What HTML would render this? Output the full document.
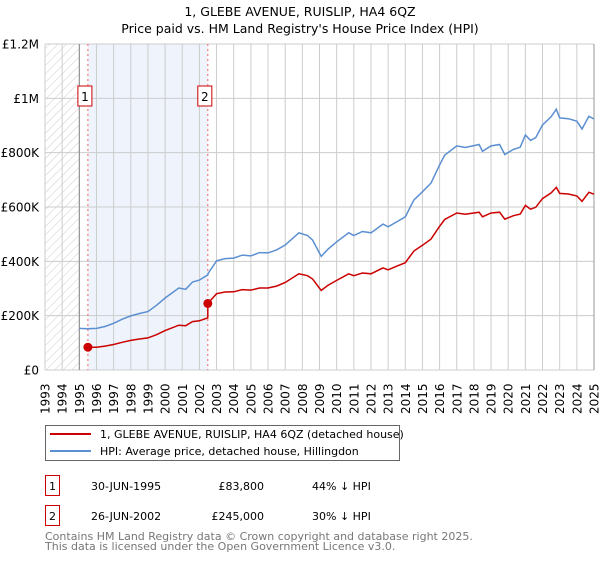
<!DOCTYPE html>
<html><head><meta charset="utf-8"><style>
body{margin:0;background:#fff;font-family:"DejaVu Sans","Liberation Sans",sans-serif;color:#222}
</style></head><body>
<svg width="600" height="560" viewBox="0 0 600 560" xmlns="http://www.w3.org/2000/svg" font-family="DejaVu Sans, Liberation Sans, sans-serif">
<defs><pattern id="hatch" width="6" height="6" patternUnits="userSpaceOnUse" patternTransform="rotate(45)"><line x1="0" y1="0" x2="0" y2="6" stroke="#ccc" stroke-width="1"/></pattern></defs>
<text x="300" y="16" text-anchor="middle" font-size="12.5">1, GLEBE AVENUE, RUISLIP, HA4 6QZ</text>
<text x="300" y="33" text-anchor="middle" font-size="12.5">Price paid vs. HM Land Registry's House Price Index (HPI)</text>
<g id="plot"></g>
<g>
<rect x="45.5" y="425.5" width="354" height="35" fill="#fff" stroke="#666"/>
<line x1="50" y1="434" x2="91" y2="434" stroke="#cc0000" stroke-width="2"/>
<text x="100" y="438" font-size="11">1, GLEBE AVENUE, RUISLIP, HA4 6QZ (detached house)</text>
<line x1="50" y1="451" x2="91" y2="451" stroke="#5b8fd1" stroke-width="2"/>
<text x="100" y="455" font-size="11">HPI: Average price, detached house, Hillingdon</text>
</g>
<g font-size="11">
<rect x="45.5" y="475.5" width="14" height="20" fill="#fff" stroke="#cc0000"/><text x="52.5" y="490" text-anchor="middle">1</text>
<text x="91" y="490">30-JUN-1995</text><text x="264" y="490" text-anchor="end">£83,800</text><text x="312" y="490">44% ↓ HPI</text>
<rect x="45.5" y="505.5" width="14" height="20" fill="#fff" stroke="#cc0000"/><text x="52.5" y="520" text-anchor="middle">2</text>
<text x="91" y="520">26-JUN-2002</text><text x="264" y="520" text-anchor="end">£245,000</text><text x="312" y="520">30% ↓ HPI</text>
</g>
<text x="45" y="540" font-size="11" fill="#777">Contains HM Land Registry data © Crown copyright and database right 2025.</text>
<text x="45" y="550" font-size="11" fill="#777">This data is licensed under the Open Government Licence v3.0.</text>
</svg>
<script>
const hpiYears=[1995,1995.5,1996,1996.5,1997,1997.5,1998,1998.5,1999,1999.5,2000,2000.8,2001.2,2001.6,2002,2002.49,2002.5,2003,2003.5,2004,2004.5,2005,2005.5,2006,2006.5,2007,2007.8,2008.3,2008.6,2009.1,2009.5,2010,2010.7,2011,2011.5,2012,2012.7,2013,2013.5,2014,2014.5,2015,2015.5,2016,2016.3,2017,2017.5,2018.3,2018.5,2019,2019.5,2019.8,2020.3,2020.7,2021,2021.3,2021.6,2022,2022.5,2022.8,2023,2023.5,2024,2024.3,2024.7,2025];
const hpiValues=[153,152,153,160,172,187,199,208,215,238,265,302,297,324,331,350,355,402,410,412,423,420,432,431,442,460,505,495,478,418,445,472,505,495,510,505,537,527,545,564,626,656,688,755,791,825,819,830,805,825,830,793,812,820,865,845,855,902,932,960,928,925,916,887,934,924];
const priceYears=[1995.5,1996,1996.5,1997,1997.5,1998,1998.5,1999,1999.5,2000,2000.8,2001.2,2001.6,2002,2002.49,2002.49,2003,2003.5,2004,2004.5,2005,2005.5,2006,2006.5,2007,2007.8,2008.3,2008.6,2009.1,2009.5,2010,2010.7,2011,2011.5,2012,2012.7,2013,2013.5,2014,2014.5,2015,2015.5,2016,2016.3,2017,2017.5,2018.3,2018.5,2019,2019.5,2019.8,2020.3,2020.7,2021,2021.3,2021.6,2022,2022.5,2022.8,2023,2023.5,2024,2024.3,2024.7,2025];
const priceValues=[83.8,84,88,94,102,109,114,118,130,145,165,163,178,181,192,245,281,287,288,296,294,302,302,309,322,354,347,335,293,312,330,354,347,357,354,376,369,382,395,438,459,482,529,554,578,573,581,564,578,581,555,568,574,606,592,599,631,652,672,650,648,641,621,654,647];
const sales=[{n:"1",t:1995.5,v:83.8},{n:"2",t:2002.49,v:245}];
const yTicks=[0,200,400,600,800,1000,1200];
const yTickLabels=["£0","£200K","£400K","£600K","£800K","£1M","£1.2M"];
const xTicks=[];for(let y=1993;y<=2025;y++)xTicks.push(y);
const L=45,R=594,T=44,B=370;
const X=t=>L+(t-1993)/32*(R-L);
const Y=v=>B-v/1200*(B-T);
const NS="http://www.w3.org/2000/svg";
const g=document.getElementById('plot');
function mk(tag,attrs,name,txt){const e=document.createElementNS(NS,tag);for(const k in attrs)e.setAttribute(k,attrs[k]);


if(txt!==undefined)e.textContent=txt;g.appendChild(e);return e;}
mk('rect',{x:L,y:T,width:R-L,height:B-T,fill:'#fff'},'plot-background');
mk('rect',{x:X(1993),y:T,width:X(1995)-X(1993),height:B-T,fill:'url(#hatch)'},'no-data-region');
mk('rect',{x:X(1995.5),y:T,width:X(2002.49)-X(1995.5),height:B-T,fill:'#eef3fc'},'ownership-period-shade');
xTicks.forEach(t=>{mk('line',{x1:X(t),y1:T,x2:X(t),y2:B,stroke:'#ccc','stroke-width':1},'x-gridline');
mk('text',{x:0,y:0,'font-size':12,'text-anchor':'start',transform:`translate(${X(t)+4.5},${B+44}) rotate(-90)`},'x-tick-label',String(t));});
yTicks.forEach((v,i)=>{mk('line',{x1:L,y1:Y(v),x2:R,y2:Y(v),stroke:'#ccc','stroke-width':1},'y-gridline');
mk('text',{x:L-6,y:Y(v)+4.5,'font-size':12,'text-anchor':'end'},'y-tick-label',yTickLabels[i]);});
mk('line',{x1:X(1995),y1:T,x2:X(1995),y2:B,stroke:'#888'},'data-start-line');
mk('line',{x1:R,y1:T,x2:R,y2:B,stroke:'#999'},'plot-right-border');
sales.forEach(s=>{mk('line',{x1:X(s.t),y1:T,x2:X(s.t),y2:B,stroke:'#f06060','stroke-dasharray':'2,3'},'sale-marker-line');});
const path=(xs,vs)=>xs.map((t,i)=>(i?'L':'M')+X(t).toFixed(1)+','+Y(vs[i]).toFixed(1)).join('');
mk('path',{d:path(hpiYears,hpiValues),fill:'none',stroke:'#5b8fd1','stroke-width':1.5},'hpi-line');
mk('path',{d:path(priceYears,priceValues),fill:'none',stroke:'#cc0000','stroke-width':1.5},'price-paid-line');
sales.forEach(s=>{mk('circle',{cx:X(s.t),cy:Y(s.v),r:4.5,fill:'#cc0000'},'sale-point-'+s.n);
mk('rect',{x:X(s.t)-10,y:86,width:14,height:20,fill:'#fff',stroke:'#cc0000'},'sale-label-box-'+s.n);
mk('text',{x:X(s.t)-3,y:101,'font-size':12,'text-anchor':'middle'},'sale-label-'+s.n,s.n);});
</script>
</body></html>
